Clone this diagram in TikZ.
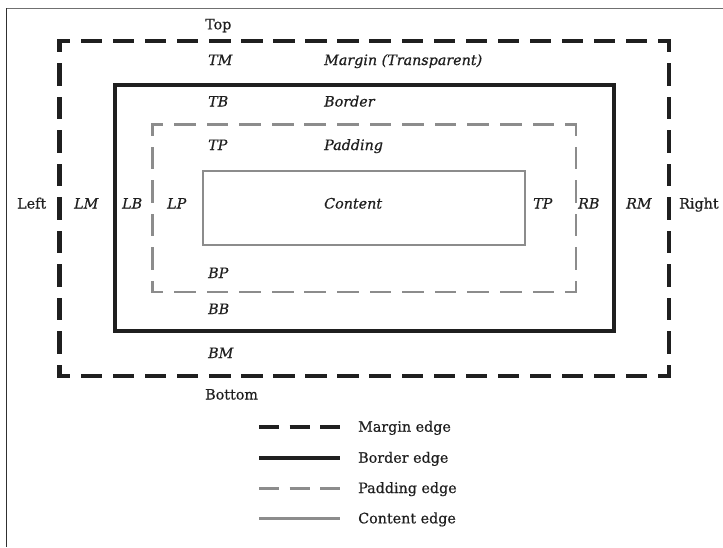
\documentclass[tikz,border=0pt]{standalone}
\usepackage{fontspec}
\setmainfont{DejaVu Serif}[FakeBold=0.6]
\definecolor{ink}{HTML}{1F1F1F}
\definecolor{soft}{HTML}{8C8C8C}
\definecolor{frametop}{HTML}{707070}
\definecolor{frameleft}{HTML}{303030}
\newcommand\dside[6]{% #1 style, #2 lw, #3 start, #4 end, #5 length, #6 periods
  \pgfmathsetmacro\dP{#5/#6}%
  \pgfmathsetmacro\dOn{2*\dP/3-#2}%
  \pgfmathsetmacro\dOff{\dP/3+#2}%
  \pgfmathsetmacro\dPh{\dOn/2}%
  \draw[#1,line width=#2pt,line cap=rect,dash pattern=on \dOn pt off \dOff pt,dash phase=\dPh pt] #3 -- #4;}
\tikzset{
  lbl/.style={inner sep=0pt,anchor=base west,font=\fontsize{14.3}{17}\selectfont,text=ink},
  ilbl/.style={lbl,font=\fontsize{14.3}{17}\selectfont\itshape},
  marginline/.style={draw=ink},
  paddingline/.style={draw=soft},
}
\begin{document}
\begin{tikzpicture}[x=1pt,y=-1pt]
\useasboundingbox (0,0) rectangle (723,547);
% frame
\draw[frametop,line width=1.3pt] (6,8.5) -- (723,8.5);
\draw[frameleft,line width=1.5pt] (6.3,8) -- (6.3,547);
% margin edge (dashed)
\dside{marginline}{4.2}{(59.5,41)}{(668.7,41)}{609.2}{19}
\dside{marginline}{4.2}{(59.5,376)}{(668.7,376)}{609.2}{19}
\dside{marginline}{4.2}{(59.5,41)}{(59.5,376)}{335}{10}
\dside{marginline}{4.2}{(668.7,41)}{(668.7,376)}{335}{10}
% border edge
\draw[ink,line width=4pt] (114.5,85) rectangle (614,331);
% padding edge (dashed)
\dside{paddingline}{2.5}{(152.3,124.7)}{(576,124.7)}{423.7}{13}
\dside{paddingline}{2.5}{(152.3,292)}{(576,292)}{423.7}{13}
\dside{paddingline}{2.5}{(152.3,124.7)}{(152.3,292)}{167.3}{5}
\dside{paddingline}{2.5}{(576,124.7)}{(576,292)}{167.3}{5}
% content edge
\draw[soft,line width=2.3pt] (202.7,171) rectangle (525,244.7);
% labels
\node[lbl]  (top)    at (205,29.3)  {Top};
\node[ilbl] (tm)     at (208,65)    {TM};
\node[ilbl] (mt)     at (324,65)    {Margin (Transparent)};
\node[ilbl] (tb)     at (208,106.5) {TB};
\node[ilbl] (bt)     at (324,106.5) {Border};
\node[ilbl] (tp)     at (208,150)   {TP};
\node[ilbl] (pt)     at (324,150)   {Padding};
\node[lbl]  (left)   at (17,208.5)  {Left};
\node[ilbl] (lm)     at (74,208.5)  {LM};
\node[ilbl] (lb)     at (122,208.5) {LB};
\node[ilbl] (lp)     at (167,208.5) {LP};
\node[ilbl] (ct)     at (324,208.5) {Content};
\node[ilbl] (tpr)    at (533,208.5) {TP};
\node[ilbl] (rb)     at (578,208.5) {RB};
\node[ilbl] (rm)     at (626,208.5) {RM};
\node[lbl]  (right)  at (679,208.5) {Right};
\node[ilbl] (bp)     at (208,278)   {BP};
\node[ilbl] (bb)     at (208,314)   {BB};
\node[ilbl] (bm)     at (208,358)   {BM};
\node[lbl]  (bottom) at (205,399.5) {Bottom};
% legend
\coordinate (l1a) at (259,427);   \coordinate (l1b) at (340,427);
\coordinate (l2a) at (259,458);   \coordinate (l2b) at (340,458);
\coordinate (l3a) at (259,488.5); \coordinate (l3b) at (340,488.5);
\coordinate (l4a) at (259,518.5); \coordinate (l4b) at (340,518.5);
\draw[ink,line width=4.2pt,dash pattern=on 20pt off 10.5pt] (l1a) -- (l1b);
\draw[ink,line width=4pt] (l2a) -- (l2b);
\draw[soft,line width=2.8pt,dash pattern=on 20pt off 10.5pt] (l3a) -- (l3b);
\draw[soft,line width=2.8pt] (l4a) -- (l4b);
\node[lbl] (me) at (358,431.7) {Margin edge};
\node[lbl] (be) at (358,462.7) {Border edge};
\node[lbl] (pe) at (358,493)   {Padding edge};
\node[lbl] (ce) at (358,523.3) {Content edge};
\end{tikzpicture}
\end{document}
